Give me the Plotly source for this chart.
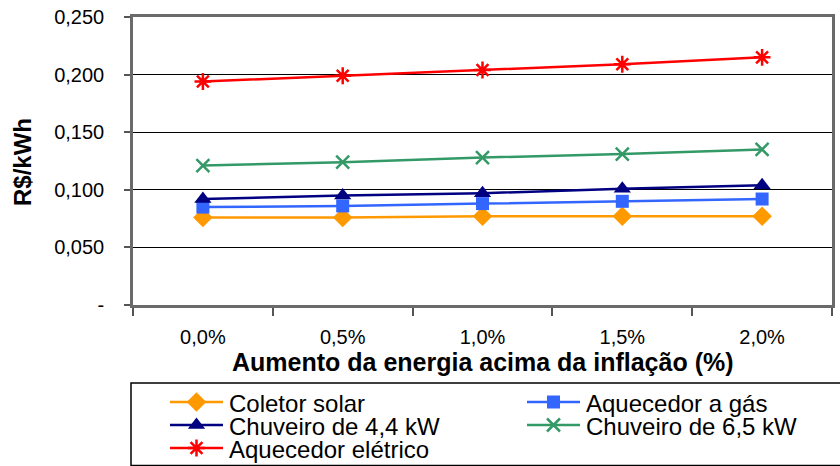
import plotly.graph_objects as go

# Cenários de aumento da energia acima da inflação
categorias = ["0,0%", "0,5%", "1,0%", "1,5%", "2,0%"]

coletor_solar = [0.076, 0.076, 0.077, 0.077, 0.077]
aquecedor_gas = [0.085, 0.086, 0.088, 0.090, 0.092]
chuveiro_44 = [0.092, 0.095, 0.097, 0.101, 0.104]
chuveiro_65 = [0.121, 0.124, 0.128, 0.131, 0.135]
aquecedor_eletrico = [0.194, 0.199, 0.204, 0.209, 0.215]

y_ticks = [0, 0.05, 0.10, 0.15, 0.20, 0.25]
y_tick_labels = ["-", "0,050", "0,100", "0,150", "0,200", "0,250"]

FONT = "Liberation Sans, Arial, sans-serif"
W, H = 840, 466

# (nome, valores, cor, símbolo, tamanho, espessura do contorno)
series = [
    ("Coletor solar", coletor_solar, "#FF9900", "diamond", 15, 0),
    ("Aquecedor a gás", aquecedor_gas, "#3366FF", "square", 13, 0),
    ("Chuveiro de 4,4 kW", chuveiro_44, "#000080", "triangle-up", 15, 0),
    ("Chuveiro de 6,5 kW", chuveiro_65, "#339966", "x-thin-open", 13, 2.5),
    ("Aquecedor elétrico", aquecedor_eletrico, "#FF0000", "asterisk-open", 14, 2.5),
]


def marker_style(cor, simbolo, tamanho, lw):
    m = dict(symbol=simbolo, size=tamanho, color=cor)
    if lw:
        m["line"] = dict(color=cor, width=lw)
    return m


fig = go.Figure()
for nome, valores, cor, simbolo, tamanho, lw in series:
    fig.add_trace(go.Scatter(
        x=categorias, y=valores, name=nome, mode="lines+markers",
        line=dict(color=cor, width=2.5),
        marker=marker_style(cor, simbolo, tamanho, lw),
        showlegend=False, xaxis="x", yaxis="y",
    ))

# Legenda em duas colunas, desenhada num eixo auxiliar em pixels
leg_cols = [170, 527]          # início da amostra de linha de cada coluna
leg_rows = [402, 425, 448]     # centro de cada linha
amostra = 53
annotations = []
for i, (nome, valores, cor, simbolo, tamanho, lw) in enumerate(series):
    x0 = leg_cols[i % 2]
    yy = leg_rows[i // 2]
    fig.add_trace(go.Scatter(
        x=[x0, x0 + amostra], y=[yy, yy], mode="lines",
        line=dict(color=cor, width=2.5), showlegend=False,
        hoverinfo="skip", xaxis="x2", yaxis="y2",
    ))
    fig.add_trace(go.Scatter(
        x=[x0 + amostra / 2], y=[yy], mode="markers",
        marker=marker_style(cor, simbolo, tamanho, lw), showlegend=False,
        hoverinfo="skip", xaxis="x2", yaxis="y2",
    ))
    annotations.append(dict(
        text=nome, xref="x2", yref="y2", x=x0 + amostra + 4, y=yy + 1,
        xanchor="left", yanchor="middle", showarrow=False,
        font=dict(family=FONT, size=24, color="black"),
    ))

plot_l, plot_r, plot_t, plot_b = 133, 832, 17, 305

annotations += [
    dict(text="<b>Aumento da energia acima da inflação (%)</b>",
         xref="paper", yref="paper", x=483 / W, y=1 - 362 / H,
         xanchor="center", yanchor="middle", showarrow=False,
         font=dict(family=FONT, size=25, color="black")),
    dict(text="<b>R$/kWh</b>", textangle=-90,
         xref="paper", yref="paper", x=23 / W, y=1 - 162 / H,
         xanchor="center", yanchor="middle", showarrow=False,
         font=dict(family=FONT, size=24, color="black")),
]

fig.update_layout(
    width=W, height=H,
    margin=dict(l=0, r=0, t=0, b=0),
    paper_bgcolor="white", plot_bgcolor="white",
    font=dict(family=FONT, color="black"),
    showlegend=False,
    xaxis=dict(
        domain=[plot_l / W, plot_r / W], anchor="y",
        type="category", range=[-0.5, 4.5],
        tickson="boundaries", ticks="outside", ticklen=8, tickcolor="#555",
        tickwidth=1.5,
        showline=True, linecolor="#6a6a6a", linewidth=2.5, mirror=True,
        showgrid=False, automargin=False,
        tickfont=dict(family=FONT, size=20, color="black"),
        ticklabelstandoff=12,
    ),
    yaxis=dict(
        domain=[1 - plot_b / H, 1 - plot_t / H], anchor="x",
        range=[0, 0.25], tickvals=y_ticks, ticktext=y_tick_labels,
        ticks="outside", ticklen=6, tickcolor="#555", tickwidth=1.5,
        showline=True, linecolor="#6a6a6a", linewidth=2.5, mirror=True,
        showgrid=True, gridcolor="black", gridwidth=1,
        zeroline=False, automargin=False,
        tickfont=dict(family=FONT, size=20, color="black"),
        ticklabelstandoff=16,
    ),
    xaxis2=dict(
        domain=[0, 1], anchor="y2", range=[0, W], visible=False,
        fixedrange=True,
    ),
    yaxis2=dict(
        domain=[0, 1 - 383 / H], anchor="x2", range=[H, 383], visible=False,
        fixedrange=True,
    ),
    annotations=annotations,
    shapes=[
        dict(type="rect", xref="paper", yref="paper",
             x0=131 / W, x1=843 / W, y0=1 - 465.5 / H, y1=1 - 383 / H,
             line=dict(color="black", width=1.5), fillcolor="rgba(0,0,0,0)",
             layer="below"),
    ],
)

fig.write_html("out.html")
